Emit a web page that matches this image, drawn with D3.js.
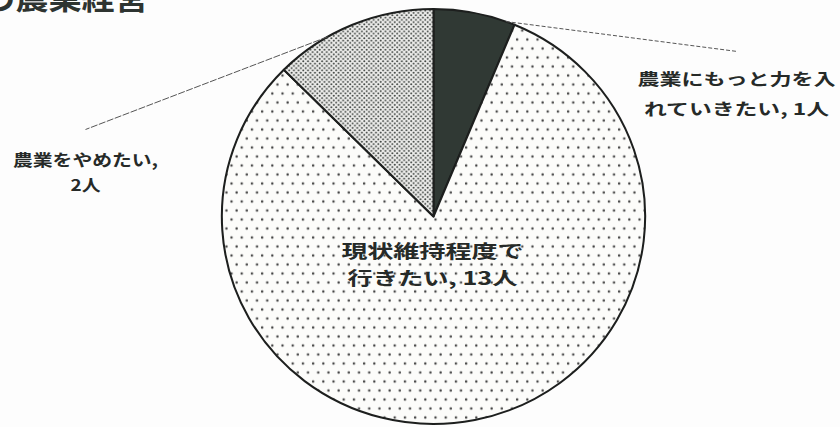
<!DOCTYPE html>
<html>
<head>
<meta charset="utf-8">
<script src="https://cdn.jsdelivr.net/npm/d3@7"></script>
<style>
  html, body { margin: 0; padding: 0; background: #fdfdfd; overflow: hidden; }
  svg { display: block; }
</style>
</head>
<body>
<svg id="pie"></svg>
<script>
// data
const titleText = 'の農業経営';
const categories = ['農業にもっと力を入れていきたい', '現状維持程度で行きたい', '農業をやめたい'];
const counts = [1, 13, 2];
const unit = '人';
// where each label wraps onto its second line
const splitAt = [9, 7, 8];

function validateSettings(settings) {
    if (!settings.svg && settings.id) {
        settings.svg = document.getElementById(settings.id);
    }
    settings.d3svg = d3.select(settings.svg);
    settings.width = settings.width ? settings.width : 840;
    settings.height = settings.height ? settings.height : 427;
    settings.fontFamily = settings.fontFamily ? settings.fontFamily : "'Noto Sans CJK JP', sans-serif";
    return settings;
}

function drawPatterns(settings) {
    let defs = settings.d3svg.append('defs');

    // sparse dots for the big slice
    let sparse = defs.append('pattern')
        .attr('id', 'sparse')
        .attr('patternUnits', 'userSpaceOnUse')
        .attr('width', 10)
        .attr('height', 18);
    sparse.append('rect').attr('width', 10).attr('height', 18).attr('fill', '#fcfcfa');
    sparse.append('circle').attr('cx', 2).attr('cy', 3).attr('r', 1.2).attr('fill', '#444');
    sparse.append('circle').attr('cx', 7).attr('cy', 12).attr('r', 1.2).attr('fill', '#444');

    // dense dots for the small slice
    let dense = defs.append('pattern')
        .attr('id', 'dense')
        .attr('patternUnits', 'userSpaceOnUse')
        .attr('width', 4.6)
        .attr('height', 4.6);
    dense.append('rect').attr('width', 4.6).attr('height', 4.6).attr('fill', '#eeeeec');
    dense.append('circle').attr('cx', 1.15).attr('cy', 1.15).attr('r', 1).attr('fill', '#3f4441');
    dense.append('circle').attr('cx', 3.45).attr('cy', 3.45).attr('r', 1).attr('fill', '#3f4441');
}

function drawTitle(settings) {
    settings.d3svg.append('text')
        .attr('x', -18)
        .attr('y', 9)
        .attr('textLength', 166)
        .attr('lengthAdjust', 'spacingAndGlyphs')
        .style('font-family', settings.fontFamily)
        .style('font-size', '30px')
        .style('font-weight', 'bold')
        .style('fill', '#2e3431')
        .text(titleText);
}

function drawPie(settings) {
    let fills = ['#303934', 'url(#sparse)', 'url(#dense)'];

    settings.pie = d3.pie().sort(null).value(function (d) { return d; });
    settings.arc = d3.arc().innerRadius(0).outerRadius(settings.radius);
    settings.arcs = settings.pie(counts);

    settings.g = settings.d3svg.append('g')
        .attr('transform', 'translate(' + settings.cx + ',' + settings.cy + ') scale(' + settings.stretch + ',1)');

    settings.g.selectAll('.slice')
        .data(settings.arcs).enter().append('path')
        .attr('class', 'slice')
        .attr('d', settings.arc)
        .attr('fill', function (d, i) { return fills[i]; })
        .attr('stroke', '#1d1f1e')
        .attr('stroke-width', 2)
        .attr('stroke-linejoin', 'round');
}

function labelLines(i) {
    let full = categories[i] + ', ' + counts[i] + unit;
    return [full.slice(0, splitAt[i]).trim(), full.slice(splitAt[i]).trim()];
}

function drawLabels(settings) {
    // label layout: anchor relative to pie centre, text widths of the scan, leader line angle
    let layout = [
        { dx: 303, dy: -132, size: 16, widths: [198, 185], gap: 30, leader: 20, end: [304, -165], dash: '4,2' },
        { dx: -1, dy: 41, size: 18, widths: [182, 170], gap: 27, leader: null },
        { dx: -348, dy: -51, size: 16, widths: [145, 30], gap: 25, leader: 330, end: [-348, -87], dash: '7,1.5' }
    ];

    settings.arcs.forEach(function (a, i) {
        let l = layout[i];
        let lines = labelLines(i);

        if (l.leader !== null) {
            let t = l.leader * Math.PI / 180;
            let x1 = settings.cx + settings.radius * settings.stretch * Math.sin(t);
            let y1 = settings.cy - settings.radius * Math.cos(t);
            settings.d3svg.append('line')
                .attr('x1', x1)
                .attr('y1', y1)
                .attr('x2', settings.cx + l.end[0])
                .attr('y2', settings.cy + l.end[1])
                .style('stroke', '#555')
                .style('stroke-width', 1)
                .style('stroke-dasharray', l.dash);
        }

        lines.forEach(function (line, j) {
            settings.d3svg.append('text')
                .attr('x', settings.cx + l.dx)
                .attr('y', settings.cy + l.dy + j * l.gap)
                .attr('text-anchor', 'middle')
                .attr('textLength', l.widths[j])
                .attr('lengthAdjust', 'spacingAndGlyphs')
                .style('font-family', settings.fontFamily)
                .style('font-size', l.size + 'px')
                .style('font-weight', 'bold')
                .style('fill', '#262a28')
                .text(line);
        });
    });
}

function drawPieChart(settings) {
    validateSettings(settings);
    settings.d3svg
        .attr('width', settings.width)
        .attr('height', settings.height);

    drawPatterns(settings);
    drawTitle(settings);
    drawPie(settings);
    drawLabels(settings);
}

drawPieChart({
    id: 'pie',
    width: 840,
    height: 427,
    cx: 433.5,
    cy: 216.5,
    radius: 207.5,
    stretch: 1.02
});
</script>
</body>
</html>
